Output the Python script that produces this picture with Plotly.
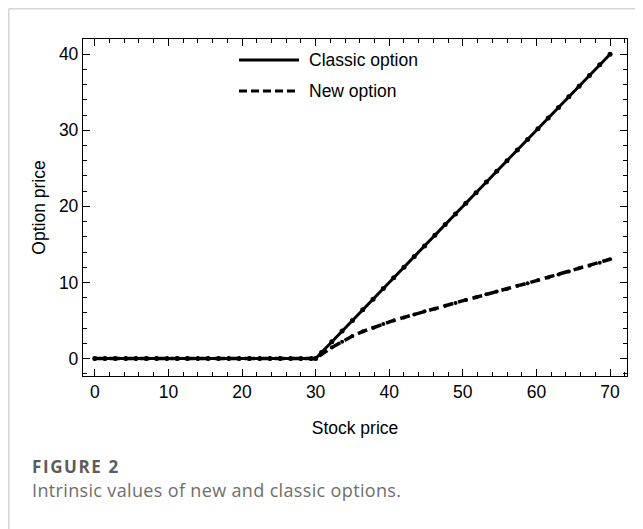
import plotly.graph_objects as go

stock_price = [0, 1.4, 2.8, 4.2, 5.6, 7, 8.4, 9.8, 11.2, 12.6, 14, 15.4, 16.8, 18.2, 19.6,
               21, 22.4, 23.8, 25.2, 26.6, 28, 29.4, 30, 30.8, 32.2, 33.6, 35, 36.4, 37.8,
               39.2, 40.6, 42, 43.4, 44.8, 46.2, 47.6, 49, 50.4, 51.8, 53.2, 54.6, 56,
               57.4, 58.8, 60.2, 61.6, 63, 64.4, 65.8, 67.2, 68.6, 70]
classic_option = [0, 0, 0, 0, 0, 0, 0, 0, 0, 0, 0, 0, 0, 0, 0,
                  0, 0, 0, 0, 0, 0, 0, 0, 0.8, 2.2, 3.6, 5, 6.4, 7.8,
                  9.2, 10.6, 12, 13.4, 14.8, 16.2, 17.6, 19, 20.4, 21.8, 23.2, 24.6, 26,
                  27.4, 28.8, 30.2, 31.6, 33, 34.4, 35.8, 37.2, 38.6, 40]
new_option = [0, 0, 0, 0, 0, 0, 0, 0, 0, 0, 0, 0, 0, 0, 0,
              0, 0, 0, 0, 0, 0, 0, 0, 0.55, 1.45, 2.2, 2.95, 3.55, 4.05,
              4.55, 5.0, 5.4, 5.8, 6.2, 6.55, 6.95, 7.3, 7.7, 8.05, 8.45, 8.8, 9.15,
              9.55, 9.9, 10.3, 10.65, 11.05, 11.45, 11.85, 12.2, 12.6, 13.05]

series_names = ["Classic option", "New option"]
x_ticks = [0, 10, 20, 30, 40, 50, 60, 70]
y_ticks = [0, 10, 20, 30, 40]
x_title = "Stock price"
y_title = "Option price"
caption_label = "FIGURE 2"
caption_text = "Intrinsic values of new and classic options."

FONT = "Arial, Liberation Sans, Helvetica, sans-serif"
CAP_FONT = "Open Sans, Noto Sans, sans-serif"
DASH = "10px,5px"

# the page body adds an 8px margin; figure sized to fit the 643x529 window
OFF = 8
W, H = 643 - OFF, 529 - OFF

fig = go.Figure()
fig.add_trace(go.Scatter(x=stock_price, y=classic_option, mode="lines+markers", name=series_names[0],
                         line=dict(color="black", width=3), marker=dict(color="black", size=5),
                         showlegend=False))
fig.add_trace(go.Scatter(x=stock_price, y=new_option, mode="lines+markers", name=series_names[1],
                         line=dict(color="black", width=3.5, dash=DASH), marker=dict(color="black", size=4),
                         showlegend=False))

axis_common = dict(
    showgrid=False, zeroline=False, showline=True, linecolor="black", linewidth=1.3,
    mirror="ticks", ticks="inside", ticklen=7, tickwidth=1.2, tickcolor="black",
    tickfont=dict(family=FONT, size=17.5, color="black"), automargin=False,
)
fig.update_xaxes(range=[-1.6, 72.3], tickvals=x_ticks,
                 minor=dict(dtick=2, tick0=0, ticks="inside", ticklen=4, tickwidth=1.1, tickcolor="black"),
                 title=dict(text=x_title, font=dict(family=FONT, size=17.5, color="black"), standoff=20),
                 **axis_common)
fig.update_yaxes(range=[-2.3, 42.0], tickvals=y_ticks,
                 minor=dict(dtick=2, tick0=0, ticks="inside", ticklen=4, tickwidth=1.1, tickcolor="black"),
                 title=dict(text=y_title, font=dict(family=FONT, size=17.5, color="black"), standoff=8),
                 **axis_common)

# plot area in page pixels: x 83..627, y 39..376
L = 83 - OFF
T = 39 - OFF
R = W - (627 - OFF)
B = H - (376 - OFF)
pw = W - L - R
ph = H - T - B

def px_x(p):
    return (p - OFF - L) / pw

def px_y(p):
    return (H - B - (p - OFF)) / ph

border = "#d4d4d4"
fig.add_shape(type="line", xref="paper", yref="paper", x0=px_x(8.75), x1=px_x(660), y0=px_y(8.75), y1=px_y(8.75),
              line=dict(color=border, width=1.5))
fig.add_shape(type="line", xref="paper", yref="paper", x0=px_x(8.75), x1=px_x(8.75), y0=px_y(8.75), y1=px_y(560),
              line=dict(color=border, width=1.5))

# legend (key samples + labels)
legend_rows = [(60, dict(color="black", width=3.2)),
               (91, dict(color="black", width=3.2, dash="8px,4px"))]
for name, (yy, ln) in zip(series_names, legend_rows):
    fig.add_shape(type="line", xref="paper", yref="paper", x0=px_x(239), x1=px_x(299),
                  y0=px_y(yy), y1=px_y(yy), line=ln)
    fig.add_annotation(text=name, xref="paper", yref="paper", x=px_x(307), y=px_y(yy),
                       xanchor="left", yanchor="middle", showarrow=False,
                       font=dict(family=FONT, size=17.5, color="black"))

fig.add_annotation(text='<span style="letter-spacing:1.6px"><b>' + caption_label + '</b></span>',
                   xref="paper", yref="paper", x=px_x(30), y=px_y(467),
                   xanchor="left", yanchor="middle", showarrow=False,
                   font=dict(family=CAP_FONT, size=17, color="#5c5c5c"))
fig.add_annotation(text='<span style="letter-spacing:0.35px">' + caption_text + '</span>',
                   xref="paper", yref="paper", x=px_x(30), y=px_y(490),
                   xanchor="left", yanchor="middle", showarrow=False,
                   font=dict(family=CAP_FONT, size=18, color="#6e6e6e"))

fig.update_layout(
    width=W, height=H,
    margin=dict(l=L, r=R, t=T, b=B),
    paper_bgcolor="white", plot_bgcolor="white",
    showlegend=False,
)

fig.write_html("out.html")
